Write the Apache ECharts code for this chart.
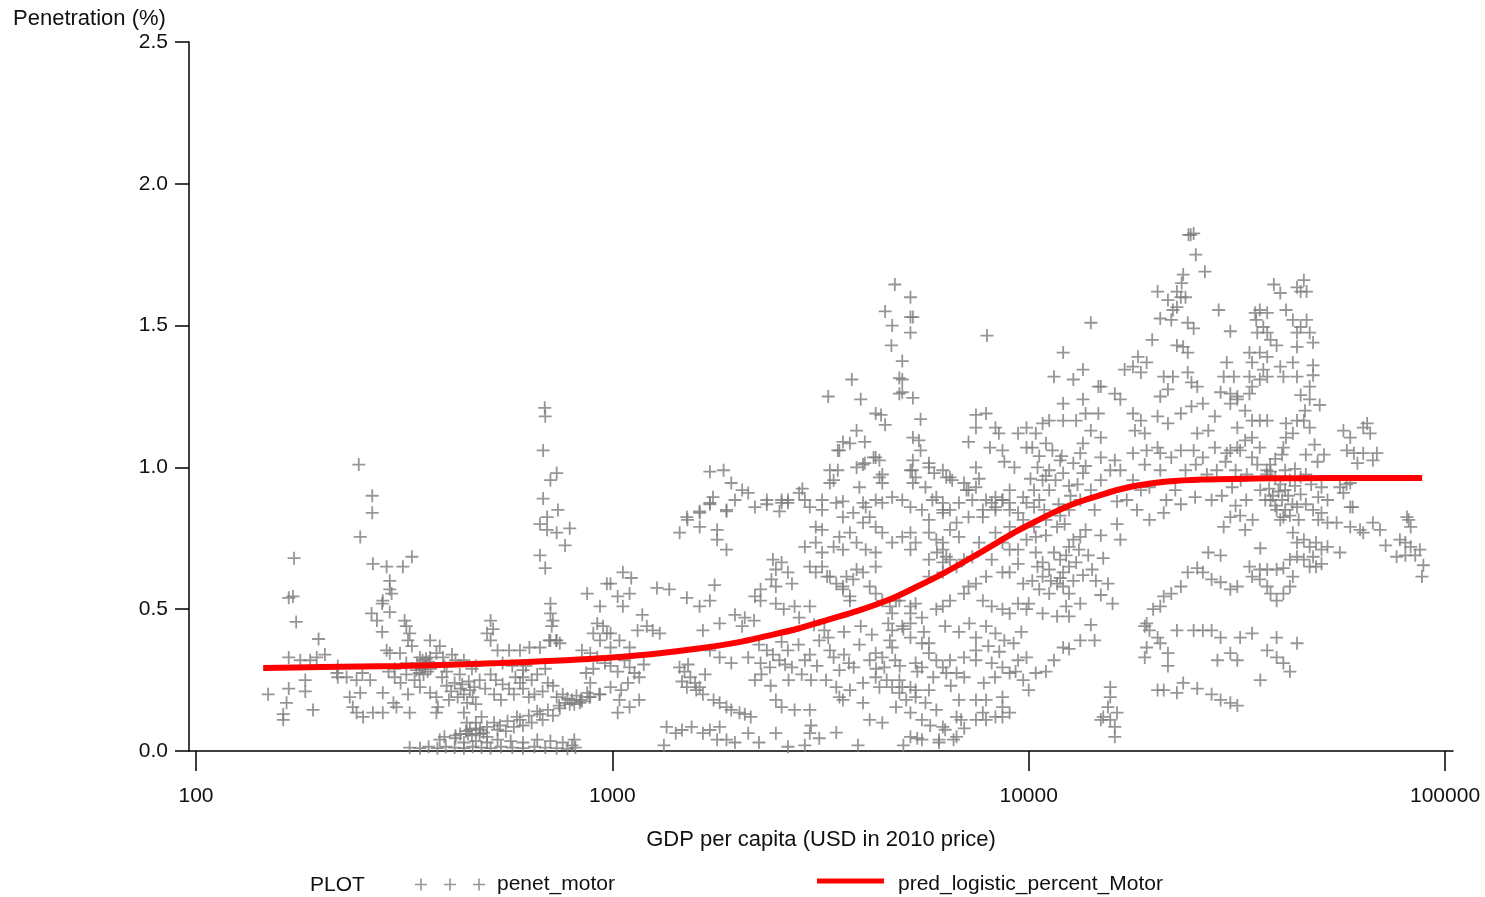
<!DOCTYPE html>
<html>
<head>
<meta charset="utf-8">
<title>Motor penetration vs GDP per capita</title>
<script src="https://cdn.jsdelivr.net/npm/echarts@6/dist/echarts.min.js"></script>
<style>
  html, body { margin: 0; padding: 0; background: #ffffff; }
  #chart { width: 1485px; height: 897px; }
</style>
</head>
<body>
<div id="chart"></div>
<script>
// Observed motor penetration (%) against GDP per capita (USD, 2010 prices): [gdp, penetration]
const motorBelow1k = [
  [246,1.01],[265,0.90],[265,0.84],[248,0.755],[172,0.68],[171,0.545],[167,0.54],[174,0.455],[197,0.395],
  [167,0.33],[178,0.32],[188,0.32],[195,0.33],[204,0.34],
  [149,0.20],[167,0.22],[165,0.17],[162,0.13],[162,0.11],[183,0.25],[183,0.21],[191,0.145],[219,0.30],[219,0.26],
  [266,0.66],[287,0.65],[314,0.65],[330,0.685],
  [292,0.60],[292,0.57],[295,0.555],[281,0.53],[280,0.52],[292,0.49],
  [264,0.485],[272,0.46],[280,0.42],[317,0.46],[320,0.44],[326,0.415],[323,0.39],
  [287,0.355],[292,0.345],[309,0.345],
  [330,0.37],[345,0.33],[350,0.32],[365,0.33],[378,0.345],[392,0.33],[412,0.34],[420,0.32],
  [340,0.31],[348,0.29],[355,0.30],[360,0.28],[352,0.27],[344,0.275],[362,0.315],[357,0.325],[366,0.29],[338,0.285],
  [218,0.275],[230,0.26],[243,0.25],[251,0.275],[262,0.25],
  [234,0.19],[238,0.155],[243,0.135],[252,0.12],[266,0.135],[281,0.135],
  [248,0.205],[281,0.205],[298,0.17],[303,0.155],[323,0.20],[326,0.135],
  [290,0.28],[300,0.26],[310,0.24],[320,0.27],[365,0.39],[385,0.37],
  [300,0.29],[320,0.31],[335,0.25],[390,0.26],[400,0.28],[430,0.27],[460,0.29],[480,0.25],[495,0.22],[470,0.30],[440,0.32],[395,0.30],
  [345,0.225],[365,0.205],[378,0.19],[381,0.155],[378,0.135],
  [400,0.23],[410,0.21],[418,0.24],[425,0.19],[432,0.22],[440,0.20],[448,0.17],[455,0.215],[462,0.19],[470,0.165],
  [405,0.18],[436,0.235],[452,0.245],[466,0.225],
  [440,0.135],[447,0.10],[455,0.075],[470,0.10],[485,0.12],
  [510,0.46],[517,0.43],[500,0.415],[510,0.39],
  [530,0.355],[565,0.355],[600,0.355],[632,0.365],[670,0.365],[705,0.39],[733,0.39],
  [688,1.21],[690,1.18],[682,1.06],[735,0.98],[710,0.955],[682,0.89],[697,0.825],[740,0.85],[670,0.80],
  [697,0.78],[735,0.77],[790,0.785],[770,0.725],[670,0.69],[690,0.645],
  [710,0.52],[710,0.485],[720,0.46],[715,0.44],[710,0.39],[735,0.39],[748,0.38],
  [610,0.285],[610,0.26],
  [326,0.012],[345,0.01],[362,0.015],[380,0.01],[398,0.015],[418,0.012],[440,0.01],[462,0.015],[485,0.012],
  [510,0.01],[540,0.015],[575,0.012],[610,0.01],[650,0.015],[690,0.012],[735,0.01],[780,0.008],[815,0.012],[800,0.02],
  [440,0.03],[470,0.035],[500,0.03],[530,0.04],[570,0.035],[610,0.03],[660,0.04],[710,0.035],[760,0.03],[810,0.04],
  [460,0.055],[480,0.06],[500,0.05],
  [385,0.04],[431,0.06],[481,0.075],[537,0.09],[600,0.11],[670,0.13],[748,0.15],[835,0.17],[934,0.20],
  [395,0.05],[420,0.055],[445,0.07],[470,0.08],[500,0.085],[520,0.10],[560,0.105],[590,0.12],[630,0.125],
  [660,0.14],[700,0.145],[745,0.16],[790,0.165],[840,0.18],[880,0.19],[930,0.20],
  [735,0.19],[760,0.20],[780,0.185],[800,0.18],[820,0.195],[845,0.175],[870,0.205],[885,0.19],[810,0.165],[770,0.17],
  [555,0.07],[580,0.085],[610,0.09],[640,0.10],[680,0.11],[720,0.125],
  [420,0.045],[450,0.06],[490,0.065],[530,0.075],
  [970,0.59],[870,0.555],[934,0.51],[920,0.45],[950,0.44],[970,0.415],[934,0.39],[900,0.415],[845,0.355],
  [865,0.275],[885,0.24],[885,0.345],[920,0.33],[960,0.31],[990,0.30],[900,0.29],
  [510,0.27],[525,0.25],[545,0.235],[565,0.22],[585,0.26],[600,0.24],[520,0.20],[540,0.18],[580,0.20],[610,0.22],
  [630,0.19],[650,0.20],[680,0.21],[700,0.24],[720,0.23],[640,0.25],[660,0.27],[690,0.29],[620,0.30],[575,0.30],[545,0.31]
];

const motor1kTo10k = [
  [1715,0.87],[1880,0.845],[1621,0.84],[1515,0.815],[1451,0.77],[1621,0.79],[1785,0.78],[1785,0.745],[1880,0.71],
  [2350,0.87],[2550,0.875],[2640,0.885],[2900,0.885],
  [1060,0.63],[1110,0.61],[990,0.59],[1030,0.545],[1100,0.555],[1060,0.51],
  [1280,0.575],[1370,0.57],[1510,0.54],[1620,0.51],[1715,0.53],[1760,0.585],
  [1180,0.48],[1210,0.44],[1150,0.425],[1250,0.425],[1300,0.415],
  [990,0.415],[1040,0.39],[990,0.365],[1100,0.365],
  [1070,0.32],[1100,0.295],[1130,0.275],[1160,0.26],[1090,0.24],[1050,0.215],[1190,0.305],[1030,0.28],
  [990,0.225],[1040,0.18],[1030,0.135],[1100,0.155],[1160,0.18],
  [1450,0.295],[1490,0.28],[1540,0.26],[1580,0.24],[1620,0.225],[1520,0.305],[1670,0.27],[1470,0.245],
  [1650,0.425],[1810,0.45],[1970,0.48],[2080,0.47],[2190,0.46],[2050,0.44],
  [1715,0.355],[1810,0.33],[1930,0.31],[2120,0.33],[2270,0.31],
  [2250,0.375],[2350,0.355],[2430,0.34],[2520,0.32],[2600,0.305],[2700,0.295],[2900,0.32],[2390,0.295],
  [2640,0.355],[2800,0.375],[2980,0.34],[2280,0.27],[2550,0.385],
  [1350,0.085],[1420,0.063],[1330,0.02],[1470,0.074],[1550,0.085],[1650,0.063],[1715,0.074],[1810,0.085],[1785,0.04],
  [1510,0.225],[1590,0.215],[1650,0.20],[1750,0.18],[1810,0.17],[1880,0.155],[1930,0.145],[2020,0.135],[2080,0.13],[2150,0.12],
  [1880,0.04],[1970,0.03],[2120,0.063],[2250,0.03],[2470,0.063],[2640,0.015],[2980,0.063],
  [2470,0.18],[2550,0.155],[2740,0.145],[2980,0.145],
  [3190,0.65],[3330,0.615],[3580,0.58],[3720,0.545],[3790,0.605],[4000,0.63],[4290,0.65],
  [3080,0.79],[3190,0.78],[3510,0.755],[3720,0.77],[4000,0.805],[4150,0.825],[4290,0.79],[4450,0.77],[4700,0.735],[4970,0.755],[5200,0.71],
  [5540,0.85],[5760,0.815],[6220,0.84],[6710,0.805],[6220,0.735],[6020,0.70],[6470,0.675],
  [4800,0.53],[5200,0.485],[4970,0.44],[4700,0.425],[4640,0.39],[5200,0.40],[5540,0.38],[5760,0.38],
  [4290,0.345],[4450,0.33],[4700,0.365],
  [3450,0.225],[3510,0.19],[3580,0.18],[3720,0.215],[3260,0.25],[4000,0.24],[4290,0.26],[4380,0.225],[4890,0.25],
  [4970,0.225],[5200,0.225],[5350,0.215],[5760,0.215],
  [4000,0.17],[4150,0.11],[4450,0.10],[4800,0.155],[5200,0.135],[5540,0.11],
  [5200,0.05],[5540,0.04],[6090,0.04],[6710,0.05],[6220,0.085],[6880,0.11],[7900,0.11],[8650,0.12],
  [6800,0.18],[7470,0.18],[7900,0.18],[8650,0.19],[8650,0.155],
  [7470,0.40],[7900,0.44],[8320,0.415],[8740,0.39],[7470,0.355],[6990,0.33],[6470,0.32],[6710,0.275],[7470,0.32],
  [8150,0.31],[8650,0.295],[9430,0.32],[9880,0.33],[9700,0.25],[9000,0.275],
  [8320,0.77],[9000,0.71],[9430,0.66],[9000,0.63],[9700,0.59],[8650,0.63],[7900,0.615],[7470,0.59],[8150,0.675],
  [5870,0.885],[6220,0.85],[6470,0.78],[6800,0.755],[7170,0.825],[7600,0.735],[8320,0.86],[9000,0.875],
  [4770,1.645],[5200,1.60],[4520,1.55],[5200,1.53],[5270,1.53],[4700,1.50],[5200,1.475],[4680,1.43],
  [4970,1.375],[4890,1.315],[4970,1.31],[4890,1.26],[4970,1.265],[5270,1.245],
  [7940,1.465],[3760,1.31],[3300,1.25],[3950,1.24],
  [4290,1.19],[4420,1.185],[4520,1.15],[5500,1.17],
  [3860,1.13],[3580,1.09],[3720,1.085],[3480,1.06],[4040,1.09],[3510,1.06],
  [5270,1.105],[5450,1.095],[5500,1.06],
  [4290,1.035],[3860,1.0],[4040,1.015],[3480,0.99],[3400,0.955],[4450,0.975],[3920,0.93],
  [5270,1.025],[5250,0.99],[5270,0.945],[5760,1.0],[5930,0.98],[6340,0.965],[6550,0.955],
  [7470,1.185],[7900,1.19],[7470,1.14],[7170,1.09],[8320,1.14],[8480,1.12],[9430,1.12],[9880,1.14],[8070,1.07],
  [8650,1.06],[7470,1.0],[7600,0.96],[8740,1.02],[9240,1.0],[9880,1.07],
  [1715,0.985],[1850,0.99],[1930,0.945],[2050,0.92],[2120,0.91],[1745,0.895],[1715,0.875],[1620,0.845],[1880,0.85],
  [1510,0.825],[1970,0.885],[2350,0.885],[2200,0.86],[2550,0.885],[2640,0.875],[2520,0.845],[2810,0.91],[2860,0.925],
  [3190,0.885],[3190,0.85],[3580,0.88],[4000,0.875],[4290,0.885],[4450,0.875],[4700,0.895],[4970,0.885],[5200,0.86],
  [3330,0.99],[3330,0.945],[4000,1.01],[4240,1.035],[4380,1.025],[4380,0.965],[4450,0.945],
  [5760,1.015],[6220,0.99],[6470,0.965],[6990,0.945],[7170,0.92],[7470,0.93],[7900,0.885],[8320,0.895],[8650,0.885],[9000,0.92],[9700,0.895],
  [2980,0.86],[3450,0.875],[3580,0.825],[3790,0.84],[4060,0.86],
  [2900,0.72],[3080,0.735],[3190,0.70],[3400,0.72],[3580,0.71],[3860,0.735],[4060,0.71],[4290,0.70],
  [2430,0.675],[2550,0.665],[2470,0.64],[2640,0.63],[2410,0.605],[2270,0.57],[2470,0.58],[2700,0.59],
  [2980,0.65],[3080,0.63],[3280,0.615],[3450,0.59],[3580,0.57],[3720,0.53],[3650,0.615],[3860,0.64],
  [2200,0.545],[2270,0.53],[2470,0.52],[2580,0.50],[2740,0.51],[2980,0.51],[2810,0.47],
  [4150,0.58],[4290,0.555],[4450,0.53],[4640,0.51],[4890,0.53],[5200,0.51],[5350,0.52],
  [4700,0.485],[5200,0.45],[5540,0.47],[6000,0.50],[6220,0.51],[6470,0.53],[6990,0.555],[7170,0.58],
  [5760,0.615],[6220,0.63],[6710,0.65],[6990,0.675],[7320,0.685],[6220,0.665],[5760,0.675],
  [5760,0.77],[6000,0.745],[6220,0.71],[6340,0.685],[5350,0.735],[5200,0.77],
  [7760,0.53],[8150,0.51],[8650,0.50],[9000,0.485],[9430,0.52],[9880,0.50],
  [7760,0.825],[8320,0.85],[9000,0.79],[9700,0.815],[9880,0.745],[9430,0.71],[8650,0.735],
  [3140,0.39],[3330,0.355],[3600,0.34],[3920,0.375],[4150,0.32],[4500,0.295],[4780,0.32],[3800,0.295],[3510,0.285],
  [3050,0.445],[3230,0.425],[3000,0.25],
  [3300,0.40],[3600,0.42],[3950,0.44],[4200,0.41],[4600,0.45],[5000,0.43],[5600,0.42],[6300,0.44],[6800,0.42],[7200,0.45],
  [8000,0.37],[8500,0.35],[9200,0.38],[9600,0.42],[7000,0.26],[7800,0.24],[8300,0.26],[9300,0.28],[6500,0.23],[5900,0.26],
  [5400,0.28],[4900,0.30],[4300,0.29],[3700,0.31],[3400,0.33],[3100,0.30],[2850,0.27],[2650,0.25],[2400,0.23],[2200,0.25],
  [2900,0.02],[3140,0.045],[3450,0.065],[3890,0.02],[3000,0.09],
  [8320,0.12],[7470,0.11],[6710,0.12],[7760,0.135],[9000,0.135],
  [4560,0.25],[4700,0.225],[4890,0.205],[5080,0.18],[5350,0.19],[5650,0.17],[6000,0.145],
  [5760,0.345],[6000,0.32],[6220,0.295],[6340,0.275],[5540,0.295],[5350,0.31],
  [5200,0.99],[5350,0.965],[5650,0.93],[6000,0.895],[6220,0.875],[6470,0.85],[6800,0.875],[7090,0.92],[7320,0.885],
  [7760,0.85],[8150,0.875],[8650,0.885],[9000,0.85],[9430,0.84],[9880,0.875],
  [5000,0.02],[5400,0.045],[6090,0.03],[6600,0.04],[7000,0.08],[5800,0.09],[6300,0.075]
];

const motorAbove10k = [
  [24200,1.82],[24500,1.82],[24900,1.825],[25200,1.75],[26500,1.69],
  [23500,1.68],[23300,1.65],[22700,1.62],[20400,1.62],[21600,1.59],[23200,1.60],[23800,1.60],[22700,1.565],[22200,1.555],
  [20700,1.525],[22000,1.52],[24100,1.51],[24900,1.49],[14100,1.51],[12100,1.405],
  [19800,1.45],[22700,1.43],[23500,1.425],[24100,1.405],[28600,1.555],[30500,1.48],
  [38800,1.645],[40200,1.615],[44100,1.635],[45800,1.66],[46500,1.62],[45000,1.62],
  [35000,1.545],[35900,1.555],[37400,1.545],[35200,1.52],[36600,1.495],[35400,1.475],[37400,1.475],[38100,1.45],[39400,1.43],[41500,1.555],
  [43100,1.52],[45000,1.495],[46500,1.52],[44100,1.475],[47300,1.475],[48200,1.44],[44100,1.425],
  [40200,1.355],[43100,1.37],[48200,1.36],[40900,1.32],[44100,1.32],[48200,1.325],[47300,1.285],
  [33900,1.405],[35900,1.405],[37400,1.39],[34400,1.37],[36600,1.345],[33900,1.32],[35900,1.31],[37400,1.32],
  [34400,1.285],[33900,1.26],[31700,1.24],[30500,1.225],[33100,1.20],[34400,1.165],[35900,1.165],[31700,1.14],
  [29900,1.37],[29400,1.32],[31100,1.32],[28900,1.265],[30500,1.26],[31700,1.25],
  [37400,1.165],[34400,1.105],[33100,1.095],[31700,1.07],[30500,1.06],[35900,1.07],
  [41500,1.155],[44100,1.165],[45800,1.165],[47300,1.14],[43100,1.12],[41500,1.105],[40900,1.07],
  [57000,1.13],[59200,1.105],[63600,1.14],[65000,1.155],[66100,1.12],[58100,1.06],[60400,1.05],[63600,1.05],
  [68600,1.05],[67100,1.025],[61600,1.015],
  [11500,1.32],[12800,1.31],[13500,1.345],[14700,1.285],[14900,1.285],[16100,1.26],[16600,1.24],[13500,1.24],
  [12100,1.225],[11200,1.165],[10800,1.155],[12100,1.165],[13000,1.165],[13700,1.19],[14700,1.19],[14100,1.13],
  [14900,1.105],[13500,1.085],[11000,1.085],[10400,1.12],
  [17000,1.345],[17800,1.355],[18600,1.335],[19200,1.37],[18300,1.39],
  [21100,1.32],[21600,1.275],[20700,1.25],[22200,1.32],[24100,1.335],[24600,1.30],[25400,1.285],
  [17800,1.19],[18600,1.165],[18000,1.13],[19000,1.12],[20400,1.18],[21600,1.155],[23200,1.19],[24600,1.215],
  [26200,1.225],[28000,1.18],[27000,1.13],[25400,1.12],
  [20400,1.07],[19200,1.06],[20700,1.05],[22000,1.035],[23200,1.06],[24900,1.06],[26200,1.035],[28000,1.07],
  [29900,1.05],[32200,1.06],[17800,1.05],[16100,1.025],[14900,1.035],[13300,1.05],[12800,1.015],[11900,1.025],
  [11200,0.99],[12100,0.98],[13500,0.98],[10800,0.955],
  [10200,1.07],[10600,1.04],[11400,1.06],[12000,1.04],[10500,1.0],[11000,0.97],[10100,0.96],[10300,0.86],
  [10900,0.85],[11800,0.87],[12600,0.90],[13100,0.94],[10400,0.755],[11000,0.76],[11700,0.79],[12200,0.80],
  [10200,0.60],[10600,0.57],[11300,0.60],[11900,0.61],[12800,0.60],[13500,0.62],[14200,0.64],[10500,0.65],
  [11500,0.70],[12300,0.69],[13200,0.71],[13900,0.69],[14500,0.60],
  [50500,0.93],[55900,0.93],[59200,0.945],[49600,0.895],[60000,0.86],[58000,0.94],[81000,0.825],
  [16600,0.99],[17800,0.955],[18600,0.92],[19500,0.93],[17200,0.885],[18200,0.85],[14900,0.955],[14100,0.92],
  [13300,0.885],[12500,0.85],[11900,0.83],[11000,0.815],[10300,0.79],[10600,0.885],[11200,0.92],[10300,0.92],
  [11600,0.955],[12500,0.935],[13700,1.005],[15700,0.99],[14400,0.85],[13700,0.78],[14900,0.76],[16300,0.80],
  [16600,0.745],[19500,0.815],[21400,0.885],[22500,0.92],[20700,0.99],[19000,1.01],
  [23800,0.99],[25200,1.01],[26800,0.975],[28300,0.99],[29700,1.02],[31400,0.99],[33400,0.975],[35400,1.01],
  [37300,0.99],[34400,1.035],[32300,0.955],[30800,0.93],[29100,0.90],[27500,0.885],[25100,0.895],[23200,0.87],
  [38000,1.01],[38100,0.985],[39100,0.965],[40200,0.94],[41300,0.92],[42400,0.955],[43600,0.935],[45000,0.965],
  [42000,0.90],[39800,0.915],[37800,0.925],[38600,0.90],[40600,0.885],[43000,0.87],[45000,0.905],[46300,0.87],
  [41300,0.85],[39100,0.865],[37000,0.885],[42400,0.83],[44500,0.815],[40200,0.815],[36000,0.92],[37300,0.975],
  [41300,0.99],[43600,0.995],[46300,0.975],[47700,0.94],[39100,1.03],[40600,1.045],
  [45000,1.255],[47300,1.24],[50000,1.22],[46100,1.20],[48600,1.08],[51200,1.045],[49400,1.02],[46300,1.045],
  [32200,0.83],[34500,0.815],[31400,0.865],[33300,0.885],
  [21100,0.84],[16300,0.88],[30500,0.825],[29400,0.79],[33100,0.78],[36000,0.715],
  [38100,0.885],[39400,0.85],[40900,0.825],[44100,0.86],[48200,0.85],[50500,0.84],[52200,0.885],[57000,0.91],
  [59200,0.86],[49600,0.815],[52200,0.805],
  [43100,0.77],[44100,0.735],[45800,0.745],[47300,0.72],[49000,0.735],[50500,0.71],[52200,0.72],[55900,0.70],
  [48200,0.685],[45800,0.675],[44100,0.685],[42400,0.675],[47300,0.65],[49000,0.65],[50500,0.66],
  [54900,0.805],[59200,0.79],[62500,0.78],[63600,0.77],[67100,0.805],[69800,0.78],
  [72000,0.725],[77900,0.745],[80300,0.735],[82700,0.72],[87000,0.71],[76500,0.685],[80300,0.69],[84800,0.69],
  [88700,0.655],[88000,0.615],[81800,0.815],[82700,0.79],
  [33900,0.65],[35900,0.64],[37400,0.64],[39400,0.64],[40900,0.645],[34400,0.615],[35900,0.605],[37400,0.58],
  [38100,0.555],[39400,0.53],[40900,0.555],[42400,0.58],[43100,0.615],[31700,0.58],[30500,0.57],[28900,0.595],
  [27500,0.605],[26200,0.63],[25400,0.645],[24100,0.63],[27000,0.70],[28900,0.69],
  [23200,0.58],[22000,0.555],[21100,0.545],[20700,0.51],[19900,0.50],[19200,0.45],[19000,0.44],[19500,0.425],
  [20400,0.40],[20700,0.38],[19200,0.365],[19000,0.33],[21600,0.345],[21600,0.30],
  [22700,0.425],[24900,0.425],[26200,0.425],[27500,0.425],[28900,0.40],[30500,0.345],[31700,0.32],[28400,0.32],
  [32200,0.40],[34400,0.415],[37400,0.355],[39400,0.33],[40900,0.31],[42400,0.28],[39400,0.40],[44100,0.38],[36000,0.25],
  [20400,0.215],[21100,0.215],[22700,0.205],[23500,0.24],[25400,0.22],[27500,0.20],[28900,0.18],[30500,0.17],[31700,0.16],
  [15700,0.225],[15700,0.19],[15500,0.155],[15100,0.12],[15700,0.11],[16100,0.085],[16100,0.05],[14900,0.11],[16300,0.135],
  [12100,0.365],[12500,0.36],[11500,0.32],[10400,0.275],[11000,0.28],[10000,0.215],
  [10400,0.70],[10800,0.665],[11200,0.64],[11900,0.675],[12100,0.63],[12500,0.65],[13000,0.665],[10800,0.615],
  [11700,0.59],[12100,0.58],[11200,0.555],[12500,0.555],[13300,0.52],[12300,0.51],[10800,0.485],[11700,0.475],
  [12500,0.475],[10000,0.52],[12800,0.745],[12500,0.72],[13300,0.755],
  [15100,0.68],[15500,0.59],[14900,0.55],[15900,0.52],[14100,0.445],[14400,0.39],[13300,0.39]
];

// Fitted logistic curve, read along its length
const predGdp = [145, 200, 309, 537, 934, 1300, 1625, 2000, 2340, 2800, 3333, 3900, 4645, 5400, 6125,
                 7350, 8400, 9270, 10400, 11630, 13000, 14690, 16500, 18420, 21500, 26100, 35000, 44900, 60000, 88100];
const predPct = [0.293, 0.296, 0.300, 0.310, 0.327, 0.345, 0.362, 0.383, 0.405, 0.432, 0.465, 0.495, 0.535, 0.580, 0.620,
                 0.685, 0.735, 0.772, 0.810, 0.845, 0.875, 0.900, 0.922, 0.937, 0.950, 0.957, 0.961, 0.962, 0.963, 0.963];

const xTicks = [100, 1000, 10000, 100000];
const yTicks = [0, 0.5, 1.0, 1.5, 2.0, 2.5];

const FONT = '"Liberation Sans", Arial, Helvetica, sans-serif';
const INK = '#111111';
// "+" marker as a filled cross
const PLUS = 'path://M5.6,0H7.4V5.6H13V7.4H7.4V13H5.6V7.4H0V5.6H5.6Z';
const PLUS3 = 'path://M5.2,0H6.8V5.2H12V6.8H6.8V12H5.2V6.8H0V5.2H5.2Z' +
              'M34.2,0H35.8V5.2H41V6.8H35.8V12H34.2V6.8H29V5.2H34.2Z' +
              'M63.2,0H64.8V5.2H70V6.8H64.8V12H63.2V6.8H58V5.2H63.2Z';
// legend bar sitting in the upper part of its slot
const BAR = 'path://M0,0H67V5H0Z M0,12H0.01V12.01H0Z';

const scatterData = motorBelow1k.concat(motor1kTo10k, motorAbove10k);
const curveData = predGdp.map((g, i) => [g, predPct[i]]);

const chart = echarts.init(document.getElementById('chart'), null, { renderer: 'canvas' });
chart.setOption({
  animation: false,
  backgroundColor: '#ffffff',
  textStyle: { fontFamily: FONT },
  title: {
    text: 'Penetration (%)',
    left: 8, top: 3,
    textStyle: { fontFamily: FONT, fontSize: 22, fontWeight: 'normal', color: INK }
  },
  grid: { left: 189, top: 42, right: 32, bottom: 146 },
  xAxis: {
    type: 'log',
    logBase: 10,
    min: 96.2,
    max: 104500,
    name: 'GDP per capita (USD in 2010 price)',
    nameLocation: 'middle',
    nameGap: 78,
    nameTextStyle: { fontFamily: FONT, fontSize: 22, color: INK },
    axisLine: { lineStyle: { color: '#000', width: 1.5 } },
    axisTick: { show: true, customValues: xTicks, length: 20, lineStyle: { color: '#000', width: 1.5 } },
    axisLabel: {
      customValues: xTicks, margin: 35, fontSize: 21, color: INK, fontFamily: FONT,
      formatter: v => String(Math.round(v))
    },
    splitLine: { show: false },
    minorTick: { show: false }
  },
  yAxis: {
    type: 'value',
    min: yTicks[0],
    max: yTicks[yTicks.length - 1],
    interval: 0.5,
    axisLine: { show: true, lineStyle: { color: '#000', width: 1.5 } },
    axisTick: { show: true, length: 14, lineStyle: { color: '#000', width: 1.5 } },
    axisLabel: { margin: 21, fontSize: 21, color: INK, fontFamily: FONT, formatter: v => v.toFixed(1) },
    splitLine: { show: false }
  },
  legend: [
    {
      left: 415, top: 874, padding: 0,
      itemWidth: 70, itemHeight: 12,
      data: [{ name: 'penet_motor', icon: PLUS3 }],
      textStyle: { fontFamily: FONT, fontSize: 21, color: INK, padding: [0, 0, 0, 7] },
      selectedMode: false
    },
    {
      left: 817, top: 874, padding: 0,
      itemWidth: 67, itemHeight: 12,
      data: [{ name: 'pred_logistic_percent_Motor', icon: BAR }],
      textStyle: { fontFamily: FONT, fontSize: 21, color: INK, padding: [0, 0, 0, 9] },
      selectedMode: false
    }
  ],
  graphic: [{
    type: 'text',
    left: 310, top: 875,
    style: { text: 'PLOT', font: '21px ' + FONT, fill: INK }
  }],
  series: [
    {
      name: 'penet_motor',
      type: 'scatter',
      data: scatterData,
      symbol: PLUS,
      symbolSize: 13,
      itemStyle: { color: '#7c7c7c' },
      z: 2
    },
    {
      name: 'pred_logistic_percent_Motor',
      type: 'line',
      data: curveData,
      smooth: 0.3,
      symbol: 'none',
      lineStyle: { color: '#ff0000', width: 6 },
      itemStyle: { color: '#ff0000' },
      z: 3
    }
  ]
});
</script>
</body>
</html>
